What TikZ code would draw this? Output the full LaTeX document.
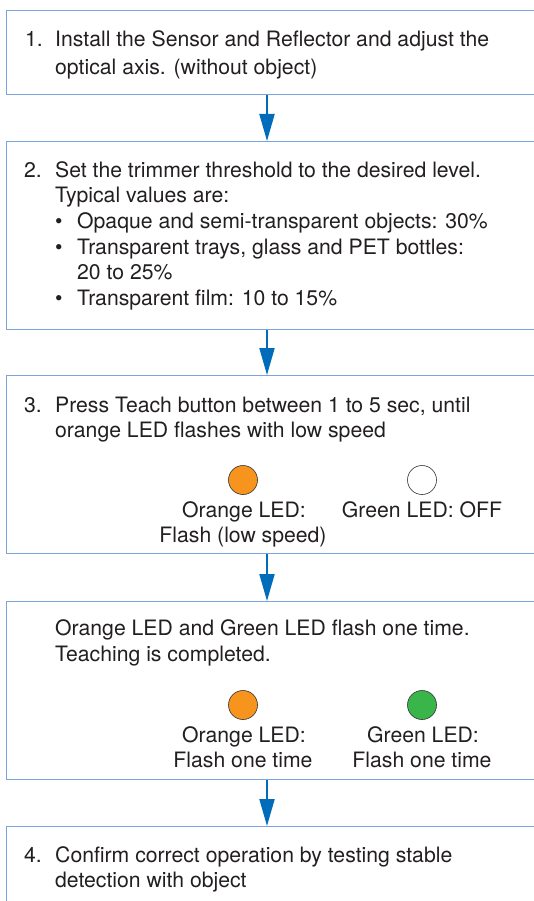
\documentclass[tikz,border=0pt]{standalone}
\usepackage{fontspec}
\setmainfont{TeX Gyre Heros}
\usetikzlibrary{arrows.meta}
\definecolor{boxblue}{RGB}{122,164,220}
\definecolor{arrblue}{RGB}{0,108,186}
\definecolor{ledorange}{RGB}{247,148,30}
\definecolor{ledgreen}{RGB}{57,181,74}
\definecolor{txt}{RGB}{35,31,32}
\begin{document}
\begin{tikzpicture}[x=1pt,y=-1pt,
  stepbox/.style={draw=boxblue,line width=1.3pt,rectangle,inner sep=0pt,anchor=north west,minimum width=539pt},
  tl/.style={anchor=base west,inner sep=0pt,text=txt,font=\fontsize{21.2}{25.3}\selectfont},
  tc/.style={anchor=base,inner sep=0pt,text=txt,font=\fontsize{21.2}{25.3}\selectfont},
  flowarrow/.style={draw=arrblue,line width=2pt,-{Triangle[width=15pt,length=27pt,fill=arrblue]}},
  led/.style={circle,draw=black!80,line width=0.6pt,minimum size=29pt,inner sep=0pt}
]
\useasboundingbox (0,0) rectangle (534,901);
\clip (0,0) rectangle (534,901);
\fill[white] (0,0) rectangle (534,901);
\coordinate (ax) at (267,0);

% boxes
\node[stepbox,minimum height=84pt]  (box1) at (6,10) {};
\node[stepbox,minimum height=188pt] (box2) at (6,141) {};
\node[stepbox,minimum height=178pt] (box3) at (6,375) {};
\node[stepbox,minimum height=178pt] (box4) at (6,601) {};
\node[stepbox,minimum height=90pt]  (box5) at (6,826) {};

% arrows
\draw[flowarrow] (box1.south -| ax) -- (box2.north -| ax);
\draw[flowarrow] (box2.south -| ax) -- (box3.north -| ax);
\draw[flowarrow] (box3.south -| ax) -- (box4.north -| ax);
\draw[flowarrow] (box4.south -| ax) -- (box5.north -| ax);

% step 1
\node[tl] (n1) at (25,47) {1.};
\node[tl] (t1a) at (55,47) {Install the Sensor and Reflector and adjust the};
\node[tl] (t1b) at (55,75) {optical axis. (without object)};

% step 2
\node[tl] (n2) at (24,178) {2.};
\node[tl] (t2a) at (55,178) {Set the trimmer threshold to the desired level.};
\node[tl] (t2b) at (55,203) {Typical values are:};
\node[tl] (b2a) at (55,229) {•};
\node[tl] (t2c) at (77,229) {Opaque and semi-transparent objects: 30\%};
\node[tl] (b2b) at (55,254) {•};
\node[tl] (t2d) at (77,254) {Transparent trays, glass and PET bottles:};
\node[tl] (t2e) at (77,279) {20 to 25\%};
\node[tl] (b2c) at (55,305) {•};
\node[tl] (t2f) at (77,305) {Transparent film: 10 to 15\%};

% step 3
\node[tl] (n3) at (24,412) {3.};
\node[tl] (t3a) at (55,412) {Press Teach button between 1 to 5 sec, until};
\node[tl] (t3b) at (55,437) {orange LED flashes with low speed};
\node[led,fill=ledorange] (led3o) at (243,480) {};
\node[led,fill=white] (led3g) at (422,480) {};
\node[tc] (l3oa) at (244,517) {Orange LED:};
\node[tc] (l3ob) at (243,542) {Flash (low speed)};
\node[tc] (l3g) at (422,517) {Green LED: OFF};

% teaching completed
\node[tl] (t4a) at (55,635) {Orange LED and Green LED flash one time.};
\node[tl] (t4b) at (55,661) {Teaching is completed.};
\node[led,fill=ledorange] (led4o) at (243,705) {};
\node[led,fill=ledgreen] (led4g) at (422,705) {};
\node[tc] (l4oa) at (244,742) {Orange LED:};
\node[tc] (l4ob) at (243,767) {Flash one time};
\node[tc] (l4ga) at (423,742) {Green LED:};
\node[tc] (l4gb) at (422,767) {Flash one time};

% step 4
\node[tl] (n5) at (24,862) {4.};
\node[tl] (t5a) at (55,862) {Confirm correct operation by testing stable};
\node[tl] (t5b) at (55,887) {detection with object};
\end{tikzpicture}
\end{document}
